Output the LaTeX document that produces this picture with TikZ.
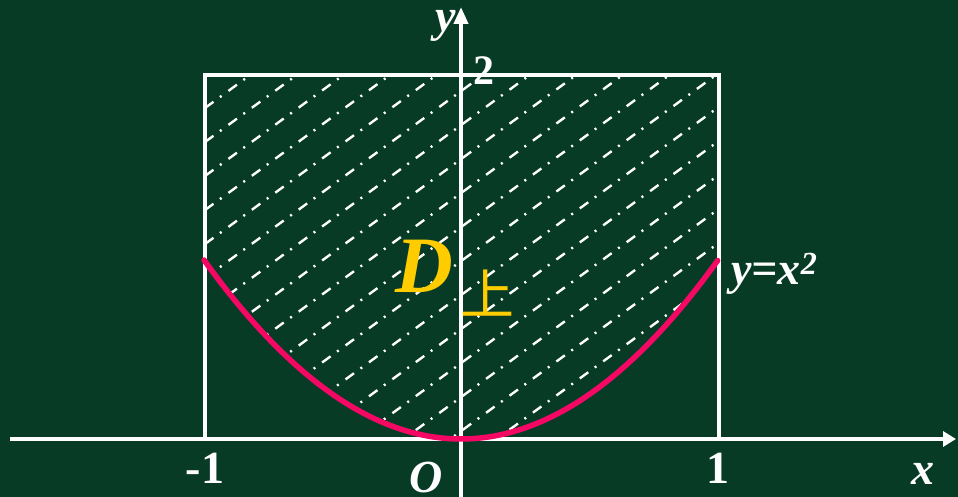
\documentclass[tikz,border=0pt]{standalone}
\usepackage{fontspec}
\setmainfont{Liberation Serif}
\newfontfamily\cjkfont{Noto Sans CJK SC}
\usetikzlibrary{arrows.meta}
\definecolor{board}{RGB}{7,59,38}
\definecolor{curvecol}{RGB}{245,8,100}
\definecolor{goldtxt}{RGB}{255,204,0}
\tikzset{
  axisline/.style={white, line width=4pt},
  boxline/.style={white, line width=3.3pt},
  hatchline/.style={white, line width=2.4pt, dash pattern=on 10.5pt off 8pt on 2pt off 8.5pt},
  curveline/.style={curvecol, line width=5.5pt, line cap=round},
  lbl/.style={white, font=\fontsize{46}{50}\selectfont\bfseries\itshape, inner sep=0pt},
  num/.style={white, font=\fontsize{46}{50}\selectfont\bfseries, inner sep=0pt},
}
\begin{document}
\begin{tikzpicture}[x=1pt,y=-1pt]
\useasboundingbox (0,0) rectangle (958,497);
\fill[board] (0,0) rectangle (958,497);
% hatched region D
\begin{scope}
  \clip (205,75) -- (719,75) -- (719,260)
    -- plot[domain=1:-1, samples=80] ({461+257*\x},{439-179*\x*\x}) -- cycle;
  \foreach \k in {-1,...,22}{
    \draw[hatchline] (205,{108+34*\k}) -- (719,{108+34*\k-375.2});
  }
\end{scope}
% rectangle
\draw[boxline] (205,439) -- (205,75) -- (719,75) -- (719,439);
% axes
\draw[axisline, -{Triangle[length=13pt,width=15pt]}] (10,439) -- (956,439);
\draw[axisline, -{Triangle[length=17pt,width=14pt]}] (461,497) -- (461,7);
% parabola
\draw[curveline] plot[domain=-1:1, samples=100] ({461+257*\x},{439-179*\x*\x});
% labels
\node[lbl] (ylab) at (446,26) {y};
\node[num, font=\fontsize{42}{46}\selectfont\bfseries] (two) at (484,71) {2};
\node[lbl, text=goldtxt, font=\fontsize{80}{84}\selectfont\bfseries\itshape] (D) at (424,266) {D};
\node[text=goldtxt, inner sep=0pt, font=\fontsize{54}{58}\cjkfont] (up) at (487,293) {上};
\node[lbl, anchor=base west] (curve) at (731,284) {y=x\textsuperscript{2}};
\node[num] (m1) at (205,468) {-1};
\node[num] (p1) at (718,468) {1};
\node[lbl] (O) at (426,477) {O};
\node[lbl] (xlab) at (923,474) {x};
\end{tikzpicture}
\end{document}
